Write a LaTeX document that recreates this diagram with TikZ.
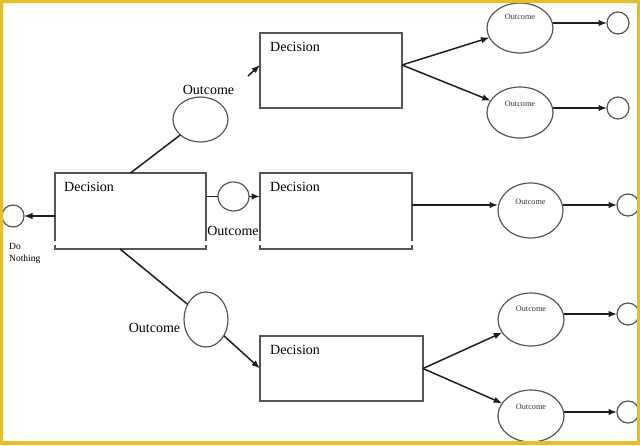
\documentclass[tikz,border=0pt]{standalone}
\usepackage{fontspec}
\setmainfont{Liberation Serif}
\usetikzlibrary{arrows.meta,shapes.geometric,calc}
\definecolor{frameyel}{RGB}{226,192,44}
\definecolor{boxgray}{RGB}{85,85,85}
\definecolor{linedark}{RGB}{30,30,30}
\begin{document}
\begin{tikzpicture}[x=1pt,y=-1pt,
  decbox/.style={rectangle, draw=boxgray, line width=1.3pt, inner sep=0, outer sep=0},
  dtext/.style={font=\fontsize{14}{16}\selectfont, anchor=west, inner sep=0},
  oval/.style={ellipse, draw=boxgray, line width=1.2pt, inner sep=0, outer sep=0},
  endc/.style={circle, draw=boxgray, line width=1.2pt, minimum size=22pt, inner sep=0, outer sep=0},
  conn/.style={draw=linedark, line width=1.5pt},
  arr/.style={conn, -{Latex[length=8.5pt,width=6.5pt]}},
  big/.style={font=\fontsize{14}{16}\selectfont, inner sep=0},
  small/.style={font=\fontsize{8.2}{10}\selectfont, inner sep=0, text=black!80}]
\fill[white] (0,0) rectangle (640,445);
\useasboundingbox (0,0) rectangle (640,445);

% decision boxes
\node[decbox, draw=none, minimum width=151pt, minimum height=76pt] (D1) at (130.5,211) {};
\node[decbox, draw=none, minimum width=152pt, minimum height=76pt] (D2) at (336,211) {};
\node[decbox, minimum width=142pt, minimum height=75pt] (D3) at (331,70.5) {};
\node[decbox, minimum width=163pt, minimum height=65pt] (D4) at (341.5,368.5) {};
\foreach \b in {D1,D2} {
  \draw[boxgray, line width=1.3pt] ($(\b.south west)+(0,-8)$) -- (\b.north west) -- (\b.north east) -- ($(\b.south east)+(0,-8)$);
  \draw[boxgray, line width=1.3pt] ($(\b.south west)+(0,-4)$) -- (\b.south west) -- (\b.south east) -- ($(\b.south east)+(0,-4)$);
}
\node[dtext] (D1t) at ($(D1.north west)+(9,14)$) {Decision};
\node[dtext] (D2t) at ($(D2.north west)+(10,14)$) {Decision};
\node[dtext] (D3t) at ($(D3.north west)+(10,14)$) {Decision};
\node[dtext] (D4t) at ($(D4.north west)+(10,14)$) {Decision};

% outcome ovals
\node[oval, minimum width=55pt, minimum height=45pt] (oTL) at (200.5,119.5) {};
\node[oval, minimum width=31pt, minimum height=29pt] (oM) at (233.5,196.5) {};
\node[oval, minimum width=44pt, minimum height=55pt] (oBL) at (206,319.5) {};
\node[big] (lTL) at (208.5,90) {Outcome};
\node[big] (lM) at (233,231) {Outcome};
\node[big] (lBL) at (154.5,328) {Outcome};

\node[oval, minimum width=66pt, minimum height=50pt, label={[small,yshift=11pt]center:Outcome}] (r1) at (520,28) {};
\node[oval, minimum width=66pt, minimum height=51pt, label={[small,yshift=8.5pt]center:Outcome}] (r2) at (520,112.5) {};
\node[oval, minimum width=65pt, minimum height=55pt, label={[small,yshift=8.5pt]center:Outcome}] (r3) at (530.5,210.5) {};
\node[oval, minimum width=66pt, minimum height=53pt, label={[small,yshift=10.5pt]center:Outcome}] (r4) at (531,319.5) {};
\node[oval, minimum width=66pt, minimum height=52pt, label={[small,yshift=9pt]center:Outcome}] (r5) at (531,416) {};

% end circles
\node[endc] (c0) at (13,216) {};
\node[endc] (c1) at (618,23) {};
\node[endc] (c2) at (618,108) {};
\node[endc] (c3) at (628,205) {};
\node[endc] (c4) at (628,314) {};
\node[endc] (c5) at (628,412) {};
\node[font=\fontsize{9.5}{12}\selectfont, align=left, anchor=north west, inner sep=0] (dn) at (9,243) {Do\\Nothing};

% connectors
\draw[arr] (D1.west |- c0) -- (c0);
\draw[conn] (D1.east |- oM) -- (oM);
\draw[arr] (oM) -- (D2.west |- oM);
\draw[conn] (D1.north) -- (oTL);
\coordinate (a1) at (248,76);
\draw[arr] (a1) -- ([yshift=5.5pt]D3.west);
\draw[conn] ([xshift=-10.5pt]D1.south) -- (oBL);
\draw[arr] (oBL) -- (D4.west);
\draw[arr] ([yshift=5.5pt]D3.east) -- (r1);
\draw[arr] ([yshift=5.5pt]D3.east) -- (r2);
\draw[arr] ([yshift=6pt]D2.east) -- ([yshift=5.5pt]r3.west);
\draw[arr] (D4.east) -- (r4);
\draw[arr] (D4.east) -- (r5);
\draw[arr] (c1 -| r1.east) -- (c1);
\draw[arr] (c2 -| r2.east) -- (c2);
\draw[arr] (c3 -| r3.east) -- (c3);
\draw[arr] (c4 -| r4.east) -- (c4);
\draw[arr] (c5 -| r5.east) -- (c5);

% frame
\fill[frameyel, even odd rule] (0,0) rectangle (640,445) (3,3) rectangle (637,441);
\end{tikzpicture}
\end{document}
